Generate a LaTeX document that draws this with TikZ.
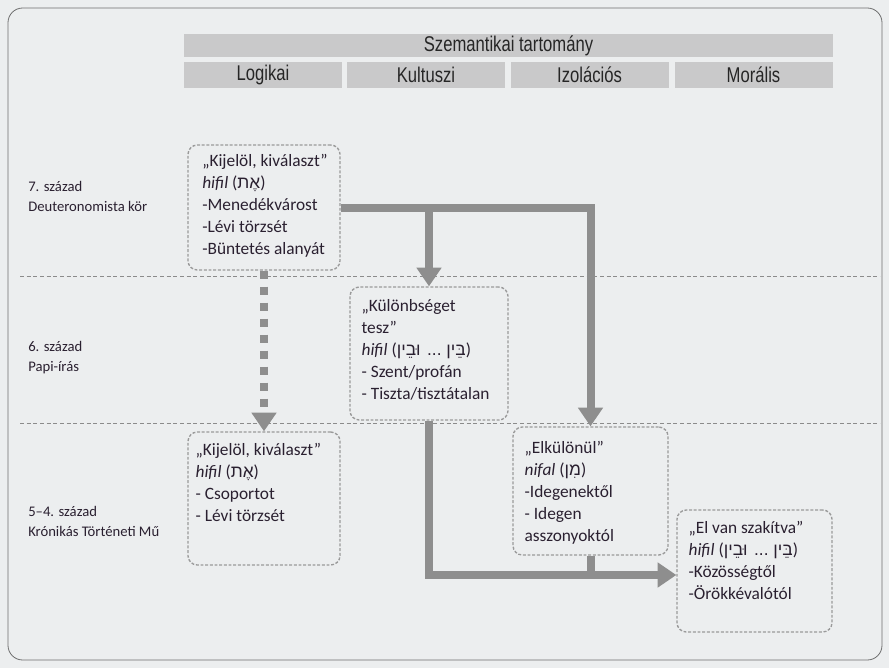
\documentclass[tikz,border=0pt]{standalone}
\usepackage{fontspec}
\setmainfont{Carlito}
\newfontfamily\hdrfont[FakeStretch=0.78]{Liberation Sans}
\newfontfamily\hebfont[Script=Hebrew]{Liberation Sans}
\TeXXeTstate=1
\newcommand\hebr[1]{{\hebfont\beginR #1\endR}}
\usetikzlibrary{arrows.meta}
\definecolor{bgc}{HTML}{ECEEEF}
\definecolor{hdrc}{HTML}{C9C9CA}
\definecolor{arrc}{HTML}{8E8E8E}
\definecolor{boxc}{HTML}{9A9A9A}
\definecolor{txtc}{HTML}{2A2030}
\definecolor{framec}{HTML}{6E6E6E}
\tikzset{
  hdrbar/.style={fill=hdrc, inner sep=0pt, font=\hdrfont\fontsize{16}{17}\selectfont, text=black!85},
  dbox/.style={draw=boxc, dash pattern=on 2.2pt off 1.3pt, line width=1pt, rounded corners=7pt, inner sep=0pt},
  btxt/.style={inner sep=0pt, align=left, text=txtc, font=\fontsize{13}{16.5}\selectfont},
  lbl/.style={inner sep=0pt, align=left, text=txtc, font=\fontsize{11}{15}\selectfont},
  arrline/.style={draw=arrc, line width=6pt},
  arrtip/.style={arrline, -{Triangle[width=18pt,length=14pt]}},
  dasharr/.style={draw=arrc, line width=6pt, dash pattern=on 6pt off 6pt, -{Triangle[width=18pt,length=14pt]}},
  sepline/.style={draw=framec!80, line width=0.7pt, dash pattern=on 3pt off 2pt},
}
\begin{document}
\begin{tikzpicture}[x=0.75pt,y=-0.75pt]
\useasboundingbox (0,0) rectangle (889,668);
\fill[bgc] (0,0) rectangle (889,668);
\draw[framec, line width=0.6pt, rounded corners=11pt] (8,8) rectangle (882,660);

% header
\node[hdrbar, minimum width=486.75pt, minimum height=17.25pt] (sem) at (508.5,45.5) {Szemantikai tartomány};
\node[hdrbar, minimum width=118.5pt, minimum height=19.5pt] (hl) at (263,75) {Logikai};
\node[hdrbar, minimum width=118.5pt, minimum height=19.5pt] (hk) at (426,75) {Kultuszi};
\node[hdrbar, minimum width=118.5pt, minimum height=19.5pt] (hi) at (589.5,75) {Izolációs};
\node[hdrbar, minimum width=118.5pt, minimum height=19.5pt] (hm) at (753.5,75) {Morális};

% separators
\draw[sepline] (20,276) -- (880,276);
\draw[sepline] (20,423) -- (880,423);

% left labels
\node[lbl, anchor=west] (l7) at (28,196) {7. század\\Deuteronomista kör};
\node[lbl, anchor=west] (l6) at (28,358) {6. század\\Papi-írás};
\node[lbl, anchor=west] (l5) at (28,521) {5–4. század\\Krónikás Történeti Mű};

% boxes
\node[dbox, minimum width=114pt, minimum height=93.75pt] (b1) at (264,207.5) {};
\node[dbox, minimum width=118.5pt, minimum height=99.75pt] (b2) at (429,353.5) {};
\node[dbox, minimum width=114pt, minimum height=99.75pt] (b3) at (264,498.5) {};
\node[dbox, minimum width=116.25pt, minimum height=96pt] (b4) at (590.5,491) {};
\node[dbox, minimum width=116.25pt, minimum height=91.5pt] (b5) at (754.5,571) {};

\node[btxt, anchor=north west] (t1) at ([xshift=11pt,yshift=-7pt]b1.north west)
  {„Kijelöl, kiválaszt”\\\textit{hifil} (\hebr{אֶת})\\-Menedékvárost\\-Lévi törzsét\\-Büntetés alanyát};
\node[btxt, anchor=north west] (t2) at ([xshift=9pt,yshift=-10pt]b2.north west)
  {„Különbséget\\tesz”\\\textit{hifil} (\hebr{בֵּין ... וּבֵין})\\- Szent/profán\\- Tiszta/tisztátalan};
\node[btxt, anchor=north west] (t3) at ([xshift=6pt,yshift=-9pt]b3.north west)
  {„Kijelöl, kiválaszt”\\\textit{hifil} (\hebr{אֶת})\\- Csoportot\\- Lévi törzsét};
\node[btxt, anchor=north west] (t4) at ([xshift=9pt,yshift=-11pt]b4.north west)
  {„Elkülönül”\\\textit{nifal} (\hebr{מִן})\\-Idegenektől\\- Idegen\\asszonyoktól};
\node[btxt, anchor=north west] (t5) at ([xshift=9pt,yshift=-9pt]b5.north west)
  {„El van szakítva”\\\textit{hifil} (\hebr{בֵּין ... וּבֵין})\\-Közösségtől\\-Örökkévalótól};

% connectors
\coordinate (ylow) at (0,575);
\draw[arrtip] (b1.east) -| (b4.north);
\draw[arrtip] (b1.east -| b2.north) -- (b2.north);
\draw[dasharr] (b1.south) -- (b3.north);
\draw[arrline] (b4.south) -- (b4.south |- ylow);
\draw[arrtip] (b2.south) |- (b5.west |- ylow);
\end{tikzpicture}
\end{document}
